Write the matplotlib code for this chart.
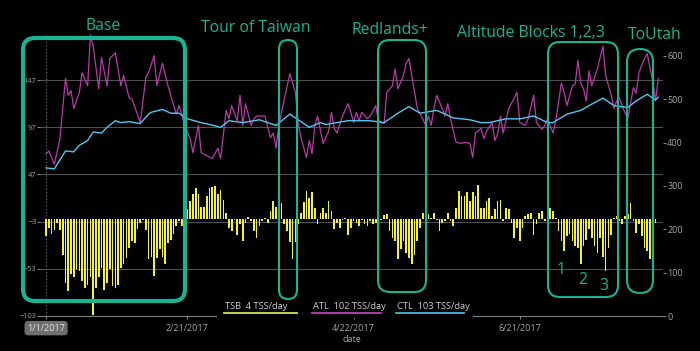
import numpy as np
import matplotlib.pyplot as plt
import matplotlib.dates as mdates
from matplotlib.patches import FancyBboxPatch, Rectangle
from matplotlib.lines import Line2D
from matplotlib.transforms import Affine2D

plt.rcParams['font.family'] = ['Open Sans', 'DejaVu Sans']

W, H = 700, 351
START = np.datetime64('2017-01-01')

# ---- data ----
# TSB bars, one per day from 1/1/2017
tsb = [-18, -10, -16, -12, -4, -12, -38, -68, -77, -59,
       -62, -53, -55, -66, -73, -70, -62, -102, -73, -62,
       -52, -75, -68, -53, -71, -73, -70, -52, -48, -41,
       -31, -24, -26, -11, -4, -1, -12, -43, -40, -61,
       -41, -32, -40, -48, -26, -22, -16, -8, -2, -8,
       2, 10, 19, 26, 33, 26, 13, 13, 24, 33,
       34, 35, 26, 31, 20, 6, -10, -13, -1, -17,
       -6, -24, -4, 2, -2, -13, -20, -8, -2, 1,
       -4, 8, 19, 13, 22, 17, -6, -13, -25, -43,
       -25, -6, 6, 18, 30, 22, 28, 12, -6, 6,
       12, 6, 19, 8,
       -11, -4, -10, -1, 1, -17, -10, -2, -4, -8,
       -1, -6, -8, -2, -6, -4, -11, -1, 4, 5,
       -13, -20, -24, -43, -32, -24, -36, -41, -48, -38,
       -24, -10,
       6, 17, 5, 1, 6, -1, -13, -4, -2, 6,
       -2, -8, 12, 29, 24, 24, 28, 19, 28, 24,
       36, 12, 12, 19, 22, 3, 10, 19, 20, -2,
       12, 10, -4, -20, -10, -24, -10, 3, 5, 6,
       -17, -6, 6, 8, -2, 10, 12, 8, 1,
       -13, -24, -34, -18, -16, -24, -29, -31, -48, -29,
       -22, -11, -20, -29, -36, -20, -40, -55, -31, -17,
       1, 3, -2, -6, 3, 5, 17, -2, -15, -6,
       -18, -31, -34, -43, -22, -4]

atl_day = [0, 1, 3, 5, 7, 8, 9, 10, 12, 13, 15, 16, 17, 19, 20, 22, 23, 25, 27, 28,
           30, 31, 34, 36, 37, 39, 40, 42, 44, 47, 48, 49, 50, 52, 53, 55, 56, 58, 60, 62,
           63, 65, 66, 67, 69, 70, 71, 72, 74, 75, 76, 79, 81, 82, 83, 84, 86, 88, 90, 91,
           92, 94, 95, 96, 97, 98, 100, 102, 103, 104, 105, 107, 109, 110, 111, 112, 113, 114, 116, 117,
           119, 120, 122, 123, 125, 126, 127, 129, 130, 131, 132, 134, 136, 137, 138, 139, 140, 141, 143, 144,
           145, 146, 148, 150, 151, 153, 154, 155, 157, 158, 159, 161, 162, 163, 164, 165, 167, 169, 170, 171,
           173, 174, 176, 177, 179, 180, 181, 183, 184, 186, 187, 188, 190, 191, 192, 193, 194, 195, 196, 197,
           199, 201, 202, 204, 205, 206, 207, 208, 210, 212, 213, 214, 216, 217, 219, 220, 221]
atl_val = [69, 72, 58, 85, 149, 131, 136, 117, 134, 155, 141, 195, 183, 138, 171, 141, 170, 176, 141, 152,
           128, 127, 102, 150, 155, 173, 141, 165, 141, 111, 120, 111, 99, 85, 70, 99, 70, 67, 64, 75,
           64, 115, 106, 120, 104, 131, 99, 122, 99, 106, 109, 109, 86, 91, 75, 99, 127, 154, 134, 102,
           86, 65, 83, 69, 99, 109, 80, 93, 113, 96, 91, 109, 122, 113, 102, 113, 104, 113, 106, 109,
           120, 104, 101, 134, 141, 159, 138, 152, 165, 170, 152, 117, 106, 99, 109, 99, 117, 131, 117, 109,
           122, 106, 81, 80, 81, 80, 65, 91, 96, 85, 93, 102, 83, 90, 109, 91, 117, 128, 134, 102,
           99, 106, 131, 102, 95, 99, 106, 91, 104, 144, 134, 120, 141, 143, 168, 144, 138, 125, 157, 141,
           159, 183, 152, 131, 117, 125, 128, 119, 106, 139, 133, 155, 170, 175, 146, 125, 149]

ctl_day = [0, 3, 7, 10, 12, 15, 17, 20, 22, 25, 27, 30, 34, 37, 38, 42, 45, 48, 51, 56,
           59, 63, 66, 71, 77, 83, 88, 93, 95, 99, 101, 109, 117, 122, 127, 131, 135, 141, 147, 153,
           157, 160, 166, 171, 176, 181, 183, 188, 193, 196, 201, 205, 210, 213, 217, 220, 221]
ctl_val = [54, 53, 72, 71, 78, 83, 92, 91, 97, 104, 102, 103, 101, 111, 113, 116, 112, 112, 106, 102,
           100, 97, 104, 102, 105, 99, 111, 101, 97, 102, 100, 104, 104, 102, 112, 119, 112, 115, 107, 105,
           102, 102, 106, 106, 109, 102, 102, 111, 115, 120, 128, 120, 118, 125, 132, 126, 129]

tick_dates = ['2017-01-01', '2017-02-21', '2017-04-22', '2017-06-21']
tick_labels = ['1/1/2017', '2/21/2017', '4/22/2017', '6/21/2017']
left_ticks = [-103, -53, -3, 47, 97, 147]
right_ticks = [0, 100, 200, 300, 400, 500, 600]

legend_names = ['TSB', 'ATL', 'CTL']
legend_values = [4, 102, 103]

block_labels = ['Base', 'Tour of Taiwan', 'Redlands+', 'Altitude Blocks 1,2,3', 'ToUtah']

# ---- styling ----
BG = 'black'
C_TSB = '#f2f230'
C_ATL = '#b83aa8'
C_CTL = '#55c6ee'
TEAL = '#1ab394'
TXT = '#a6a6a6'

fig = plt.figure(figsize=(W / 100, H / 100), dpi=100, facecolor=BG)
ax = fig.add_axes([40 / W, 1 - 316 / H, (663 - 40) / W, (316 - 33) / H])
ax.set_facecolor(BG)

days = np.arange(len(tsb))
ax.bar(START + days, tsb, width=0.6, color=C_TSB, zorder=2)
ax.plot(START + np.array(atl_day), atl_val, color=C_ATL, lw=0.9, zorder=3)
ax.plot(START + np.array(ctl_day), ctl_val, color=C_CTL, lw=1.0, zorder=3)

x0 = mdates.date2num(START)
ax.set_xlim(x0 - 2.2, x0 + 222.7)
ax.set_ylim(-103, 197)
ax.set_yticks(left_ticks)
ax.set_xticks(mdates.date2num(np.array(tick_dates, dtype='datetime64[D]')))
ax.set_xticklabels(tick_labels)
ax.yaxis.grid(True, color='#505050', lw=0.8)
ax.set_axisbelow(True)
ax.axvline(START, color='#7a7a7a', ls=(0, (1, 2)), lw=0.8, zorder=1)

for s in ['top', 'right', 'left']:
    ax.spines[s].set_visible(False)
ax.spines['bottom'].set_color('#808080')
ax.spines['bottom'].set_linewidth(0.8)
ax.tick_params(axis='y', length=2.2, width=0.7, color='#888888', labelcolor=TXT, labelsize=5.3, pad=0.3)
ax.tick_params(axis='x', length=2.5, width=0.7, color='#888888', labelcolor=TXT, labelsize=6.5, pad=3)
ax.set_xlabel('date', color=TXT, fontsize=6.5, labelpad=2)

first = ax.get_xticklabels()[0]
first.set_bbox(dict(boxstyle='round,pad=0.3,rounding_size=0.4', fc='#6f6f6f', ec='none'))
first.set_color('#e6e6e6')

ax2 = ax.twinx()
ax2.set_ylim(0, 653)
ax2.set_yticks(right_ticks)
for s in ax2.spines.values():
    s.set_visible(False)
ax2.tick_params(axis='y', length=2.5, width=0.7, color='#888888', labelcolor=TXT, labelsize=6.5, pad=0.5)

# ---- annotations in image pixel coordinates (origin top-left) ----
pix = Affine2D().scale(1, -1).translate(0, H)

# legend
fig.add_artist(Rectangle((217, 313.6), 256, 4.2, transform=pix, fc=BG, ec='none', zorder=2))
leg_x = [(224, 297), (312, 381), (396, 464)]
leg_col = ['#dede5a', '#c040b8', '#46b4dc']
for name, val, (lx0, lx1), c in zip(legend_names, legend_values, leg_x, leg_col):
    fig.text(lx0 + 1, 306.5, f'{name}  {val} TSS/day', transform=pix, color='#cfcfcf',
             fontsize=6.7, ha='left', va='center', zorder=5)
    fig.add_artist(Line2D([lx0, lx1], [313.2, 313.2], transform=pix, color=c, lw=1.3, zorder=5))

# highlighted blocks: x0, y0, x1, y1, linewidth, rounding
boxes = [(23, 38, 185, 301, 3.0, 12),
         (279, 40, 297, 299, 1.5, 9),
         (378, 40, 426, 292, 1.5, 12),
         (548, 42, 618, 297, 1.5, 12),
         (627, 49, 653, 293, 1.5, 13)]
for bx0, by0, bx1, by1, lw, r in boxes:
    fig.add_artist(FancyBboxPatch((bx0, by0), bx1 - bx0, by1 - by0,
                                  boxstyle=f'round,pad=0,rounding_size={r}',
                                  transform=pix, fc='none', ec=TEAL, lw=lw, zorder=4))

label_pos = [(103, 26), (256, 28), (390, 30), (531, 33), (655, 35)]
for lab, (tx, ty) in zip(block_labels, label_pos):
    fig.text(tx, ty, lab, transform=pix, color=TEAL, fontsize=11.3, ha='center', va='center', zorder=5)

for num, (tx, ty) in zip(['1', '2', '3'], [(561, 270), (583, 280), (604, 286)]):
    fig.text(tx, ty, num, transform=pix, color=TEAL, fontsize=11.3, ha='center', va='center', zorder=5)

fig.savefig('out.png', dpi=100, facecolor=BG)
